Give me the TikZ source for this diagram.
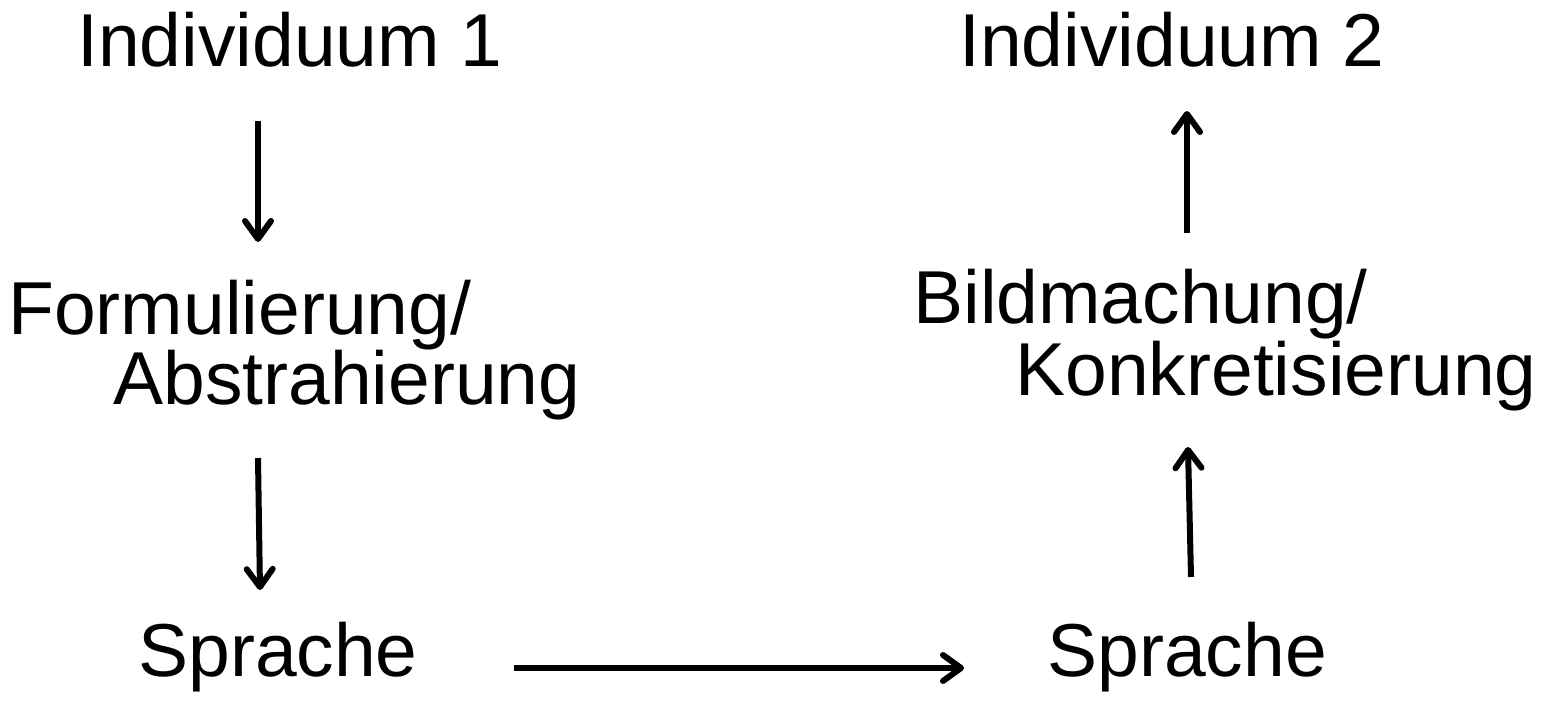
\documentclass[tikz,border=0pt]{standalone}
\usepackage{fontspec}
\setmainfont{Liberation Sans}
\usetikzlibrary{arrows.meta}
\begin{document}
\begin{tikzpicture}[x=0.5pt,y=-0.5pt,
  lbl/.style={inner sep=0pt,anchor=base west,font=\fontsize{37.5}{45}\selectfont},
  arr/.style={line width=3pt,-{Straight Barb[length=9pt,width=13pt,round]}}]
\useasboundingbox (0,0) rectangle (1543,702);
% left column
\node[lbl] (ind1) at (77,66) {Individuum 1};
\node[lbl] (form) at (8,334) {Formulierung/};
\node[lbl] (abstr) at (113,404) {Abstrahierung};
\node[lbl] (spr1) at (138,676) {Sprache};
% right column
\node[lbl] (ind2) at (959,66) {Individuum 2};
\node[lbl] (bild) at (913,323) {Bildmachung/};
\node[lbl] (konk) at (1015,395) {Konkretisierung};
\node[lbl] (spr2) at (1047,676) {Sprache};
% arrow end points
\coordinate (a1s) at (258,121);
\coordinate (a1e) at (258,242);
\coordinate (a2s) at (258,458);
\coordinate (a2e) at (260,590);
\coordinate (a3s) at (1187,233);
\coordinate (a3e) at (1187,111);
\coordinate (a4s) at (1191,577);
\coordinate (a4e) at (1188,447);
\coordinate (a5s) at (514,668);
\coordinate (a5e) at (964,668);
\draw[arr] (a1s) -- (a1e);
\draw[arr] (a2s) -- (a2e);
\draw[arr] (a3s) -- (a3e);
\draw[arr] (a4s) -- (a4e);
\draw[arr] (a5s) -- (a5e);
\end{tikzpicture}
\end{document}
